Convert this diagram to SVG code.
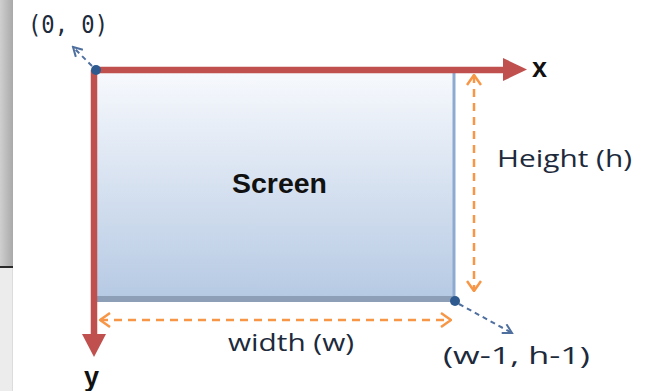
<svg xmlns="http://www.w3.org/2000/svg" width="646" height="391" viewBox="0 0 646 391">
<style>
.lbl{font-family:"Open Sans","Liberation Sans",Arial,sans-serif;fill:#1c2a3c}
.mono{font-family:"DejaVu Sans Mono","Liberation Mono",monospace;fill:#1c2a3c}
.bold{font-family:"Liberation Sans",Arial,sans-serif;font-weight:bold;fill:#111}
.axis{stroke:#c0504d;stroke-width:6.5;fill:none}
.dim{stroke:#f79646;stroke-width:2.5;stroke-dasharray:8 6;fill:none}
.ptr{stroke:#4f6f9f;stroke-width:2;stroke-dasharray:5 4;fill:none}
</style>
<defs>
<linearGradient id="scr" x1="0" y1="0" x2="0" y2="1">
<stop offset="0" stop-color="#f7f9fd"/>
<stop offset="1" stop-color="#b5c9e3"/>
</linearGradient>
<linearGradient id="side" x1="0" y1="0" x2="1" y2="0">
<stop offset="0" stop-color="#cfcfcf"/>
<stop offset="1" stop-color="#a9a9a9"/>
</linearGradient>
<marker id="oa" viewBox="0 0 12 16" refX="11" refY="8" markerWidth="12" markerHeight="16" markerUnits="userSpaceOnUse" orient="auto-start-reverse">
<path d="M1,1 L11,8 L1,15" fill="none" stroke="#f79646" stroke-width="2.5"/>
</marker>
<marker id="ba" viewBox="0 0 12 12" refX="10" refY="6" markerWidth="12" markerHeight="12" markerUnits="userSpaceOnUse" orient="auto">
<path d="M1,1 L10,6 L1,11" fill="none" stroke="#4f6f9f" stroke-width="2"/>
</marker>
</defs>
<rect width="646" height="391" fill="#ffffff"/>
<rect x="0" y="0" width="13" height="266" fill="url(#side)"/>
<rect x="0" y="266" width="13" height="2" fill="#2a2a2a"/>
<rect x="0" y="268" width="12" height="123" fill="#ececec"/>
<rect x="12" y="268" width="1" height="123" fill="#dcdcdc"/>

<g id="screen">
<rect x="96" y="72" width="359" height="230" fill="url(#scr)"/>
<rect x="96" y="296" width="359" height="6" fill="#8d9fb7"/>
<line x1="454" y1="72" x2="454" y2="300" stroke="#8eaad0" stroke-width="3"/>
<text class="bold" x="232" y="193" font-size="28" textLength="95" lengthAdjust="spacingAndGlyphs">Screen</text>
</g>

<g id="connectors">
<path class="axis" d="M94,70 H506"/>
<path d="M503,58 L527,69.5 L503,81 Z" fill="#c0504d"/>
<path class="axis" d="M94,70 V336"/>
<path d="M82,334 L94,357 L106,334 Z" fill="#c0504d"/>
<line class="dim" x1="474" y1="75" x2="474" y2="291" marker-start="url(#oa)" marker-end="url(#oa)"/>
<line class="dim" x1="100" y1="320" x2="451" y2="320" marker-start="url(#oa)" marker-end="url(#oa)"/>
<line class="ptr" x1="92" y1="66" x2="73" y2="47" marker-end="url(#ba)"/>
<line class="ptr" x1="459" y1="304" x2="512" y2="333" marker-end="url(#ba)"/>
</g>

<g id="origin">
<circle cx="96" cy="70" r="5" fill="#2f5a8f"/>
<text class="mono" x="28" y="33" font-size="25" textLength="80" lengthAdjust="spacingAndGlyphs">(0, 0)</text>
</g>
<g id="corner">
<circle cx="455" cy="301" r="5" fill="#2f5a8f"/>
<text class="lbl" x="443" y="364" font-size="24" textLength="147" lengthAdjust="spacingAndGlyphs">(w-1, h-1)</text>
</g>
<g id="x-label"><text class="bold" x="532" y="77" font-size="27">x</text></g>
<g id="y-label"><text class="bold" x="84" y="386" font-size="27">y</text></g>
<g id="height-label"><text class="lbl" x="497" y="167" font-size="24" textLength="135" lengthAdjust="spacingAndGlyphs">Height (h)</text></g>
<g id="width-label"><text class="lbl" x="228" y="351" font-size="24" textLength="126" lengthAdjust="spacingAndGlyphs">width (w)</text></g>
</svg>
